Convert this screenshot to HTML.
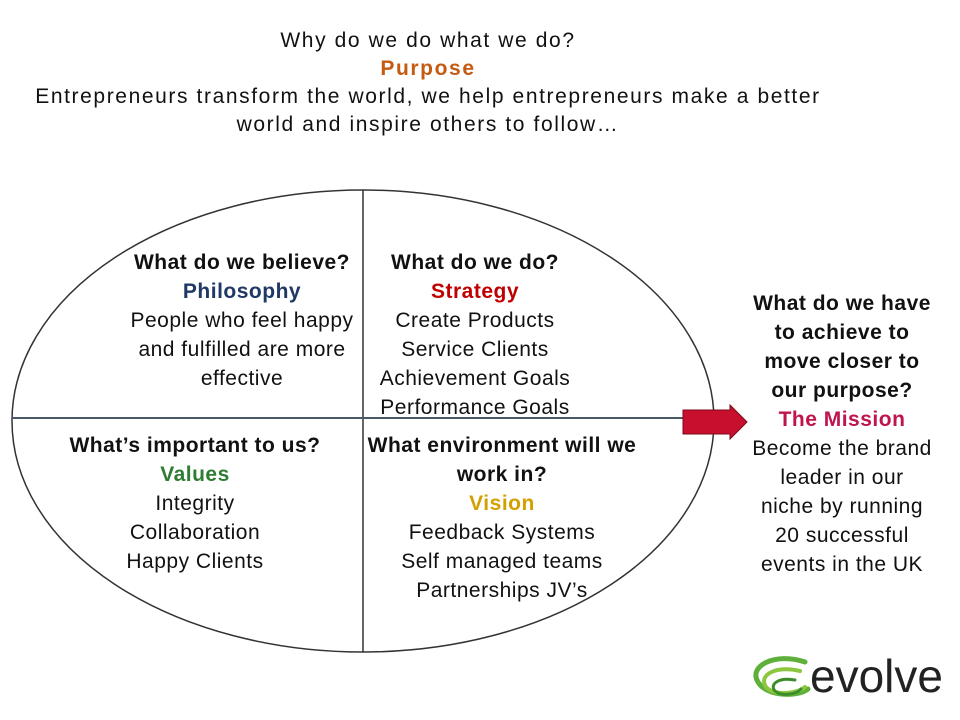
<!DOCTYPE html>
<html><head><meta charset="utf-8"><style>
body{margin:0;width:960px;height:720px;background:#fff;position:relative;overflow:hidden;font-family:"Liberation Sans",sans-serif;color:#111}
.t{position:absolute;text-align:center;font-size:21px;line-height:29px;white-space:nowrap;letter-spacing:0.5px}
b{font-weight:bold}
</style></head><body>
<svg width="960" height="720" style="position:absolute;left:0;top:0">
<ellipse cx="363" cy="421" rx="351" ry="231" fill="none" stroke="#333" stroke-width="1.5"/>
<line x1="363" y1="190" x2="363" y2="652" stroke="#333" stroke-width="1.5"/>
<line x1="12" y1="418" x2="684" y2="418" stroke="#4a5868" stroke-width="2"/>
<polygon points="683,410 730,410 730,405 747,422 730,439 730,434 683,434" fill="#c8102e" stroke="#7a0a1c" stroke-width="1"/>
<g fill="none" stroke-linecap="round">
<path d="M805,662 C775,652 748,666 758,682 C767,697 798,697 808,689" stroke="#5fb03a" stroke-width="5"/>
<path d="M800,671 C776,665 758,675 766,687 C774,696 797,694 805,687" stroke="#8dc63f" stroke-width="4"/>
<path d="M795,680 C779,677 769,684 775,691 C782,697 797,694 801,689" stroke="#3d8c2a" stroke-width="3"/>
</g>
<text x="810" y="692" font-family="Liberation Sans,sans-serif" font-size="46" fill="#222">evolve</text>
</svg>
<div class="t" style="left:0;width:856px;top:27px;line-height:28px;letter-spacing:1.6px">Why do we do what we do?<br><b style="color:#c55a11">Purpose</b><br>Entrepreneurs transform the world, we help entrepreneurs make a better<br>world and inspire others to follow…</div>
<div class="t" style="left:112px;width:260px;top:248px"><b>What do we believe?</b><br><b style="color:#1f3864">Philosophy</b><br>People who feel happy<br>and fulfilled are more<br>effective</div>
<div class="t" style="left:345px;width:260px;top:248px"><b>What do we do?</b><br><b style="color:#c00000">Strategy</b><br>Create Products<br>Service Clients<br>Achievement Goals<br>Performance Goals</div>
<div class="t" style="left:55px;width:280px;top:431px"><b>What’s important to us?</b><br><b style="color:#2e7d32">Values</b><br>Integrity<br>Collaboration<br>Happy Clients</div>
<div class="t" style="left:357px;width:290px;top:431px"><b>What environment will we<br>work in?</b><br><b style="color:#d4a000">Vision</b><br>Feedback Systems<br>Self managed teams<br>Partnerships JV’s</div>
<div class="t" style="left:732px;width:220px;top:289px"><b>What do we have<br>to achieve to<br>move closer to<br>our purpose?</b><br><b style="color:#c0144c">The Mission</b><br>Become the brand<br>leader in our<br>niche by running<br>20 successful<br>events in the UK</div>
</body></html>
